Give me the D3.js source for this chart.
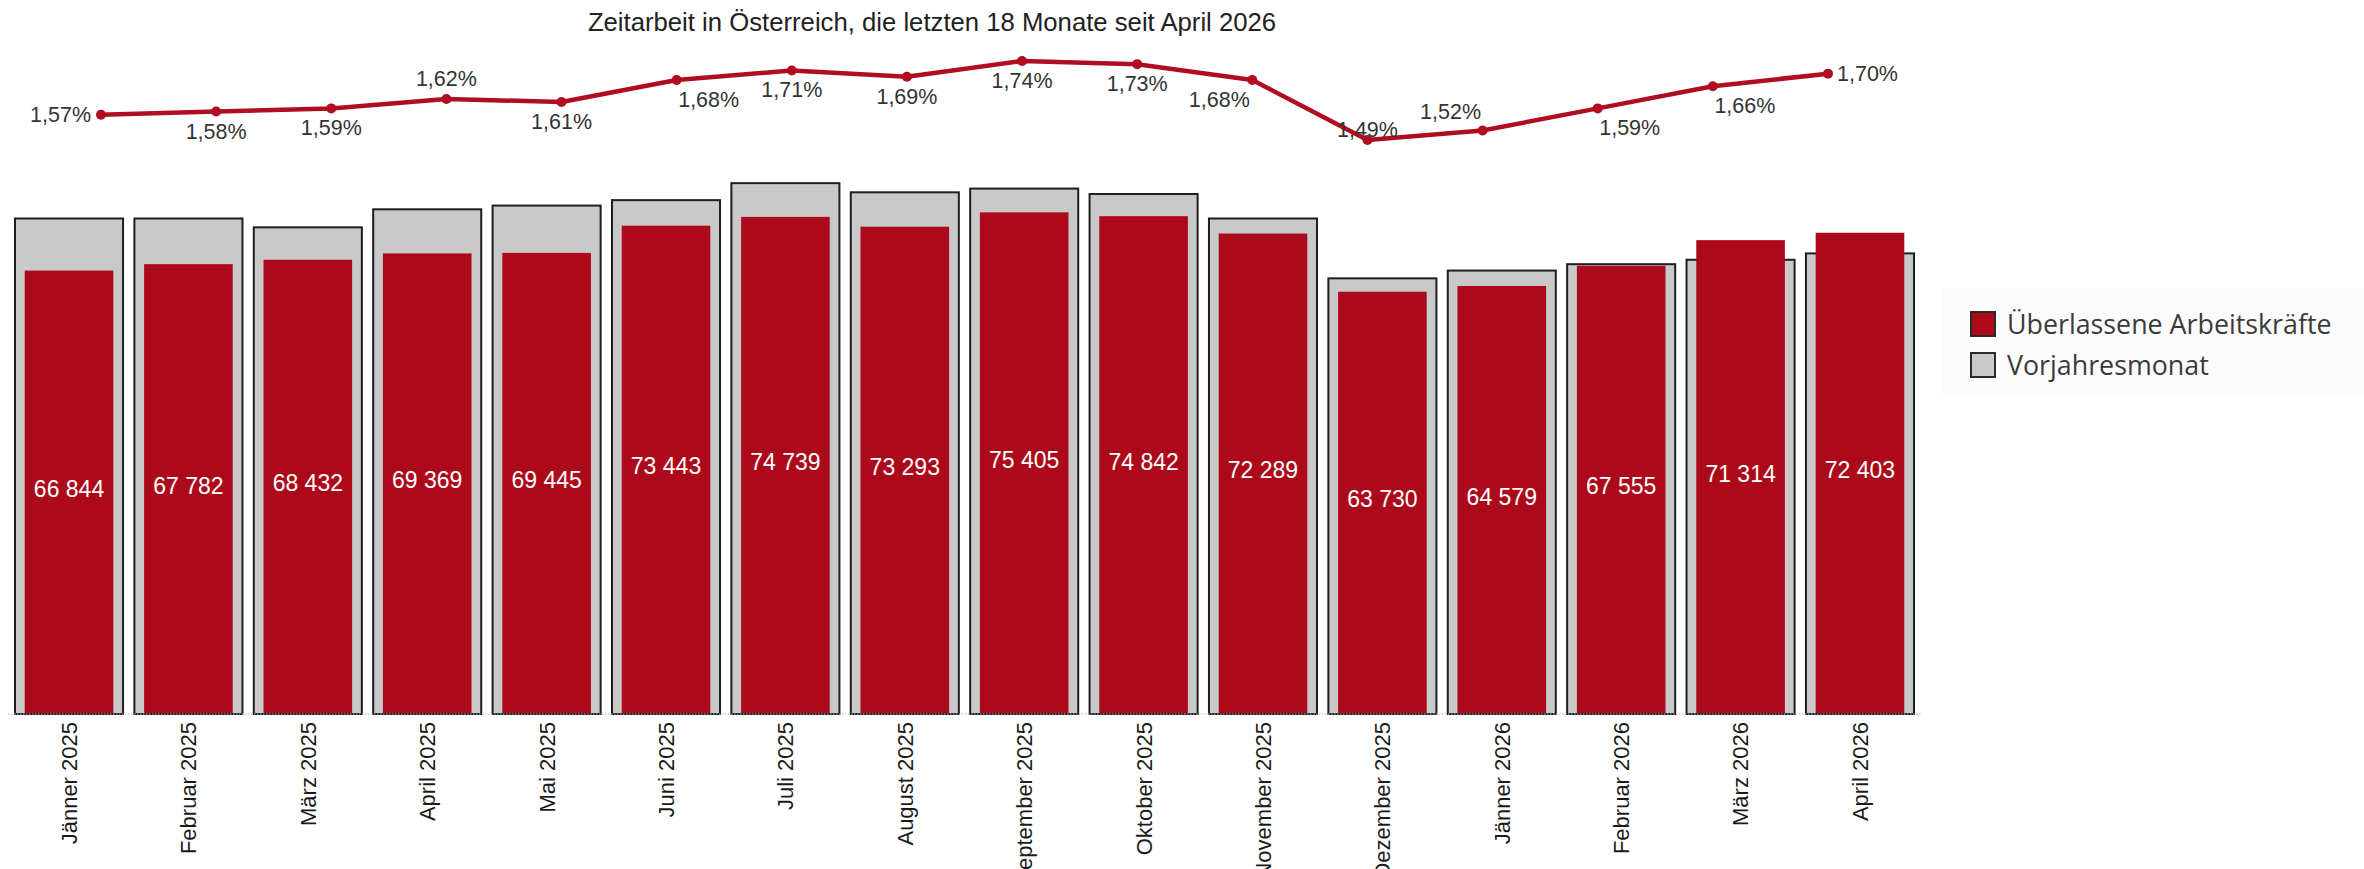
<!DOCTYPE html>
<html>
<head>
<meta charset="utf-8">
<script src="https://cdn.jsdelivr.net/npm/d3@7"></script>
<style>
  html, body { margin: 0; padding: 0; background: #ffffff; }
  svg { display: block; }
</style>
</head>
<body>
<svg id="chart" width="2364" height="869"></svg>
<script>
// ---------- data ----------
const title = "Zeitarbeit in Österreich, die letzten 18 Monate seit April 2026";
const months = ["Jänner 2025","Februar 2025","März 2025","April 2025","Mai 2025","Juni 2025","Juli 2025","August 2025","September 2025","Oktober 2025","November 2025","Dezember 2025","Jänner 2026","Februar 2026","März 2026","April 2026"];
const workers = [66844,67782,68432,69369,69445,73443,74739,73293,75405,74842,72289,63730,64579,67555,71314,72403];
const prevYear = [74500,74500,73200,75850,76400,77200,79700,78350,78900,78100,74500,65700,66844,67782,68432,69369];
const shares = [1.57,1.58,1.59,1.62,1.61,1.68,1.71,1.69,1.74,1.73,1.68,1.49,1.52,1.59,1.66,1.70];
const shareLabelPlacement = ["left","below","below","above","below","below-right","below","below","below","below","below-left","on","above-left","below-right","below-right","right"];
const legendLabels = ["Überlassene Arbeitskräfte","Vorjahresmonat"];

// ---------- style ----------
const RED = "#ac0a1b";
const LINE_RED = "#b00d20";
const GRAY = "#c9c9c9";
const OUTLINE = "#1e1e1e";
const ARIAL = "'Liberation Sans', Arial, Helvetica, sans-serif";

const svg = d3.select("#chart");
const locale = d3.formatLocale({decimal: ",", thousands: " ", grouping: [3], currency: ["", "€"]});
const fmtInt = locale.format(",d");
const fmtPct = v => locale.format(".2f")(v) + "%";

// ---------- scales ----------
const plotBottom = 713;
const x = d3.scaleBand().domain(months).range([15, 1914]).paddingInner(0.095).paddingOuter(0);
const y = d3.scaleLinear().domain([0, 80000]).range([725.1, 725.1 - 80000 * 0.0068]);
const xLine = d3.scalePoint().domain(months).range([101, 1828]);
const yLine = d3.scaleLinear().domain([1.49, 1.74]).range([140, 61]);

const bw = x.bandwidth();
const redW = bw * 0.82;

// ---------- title ----------
svg.append("text")
  .attr("x", 932).attr("y", 31)
  .attr("text-anchor", "middle")
  .attr("font-family", ARIAL).attr("font-size", 25.7)
  .attr("fill", "#222")
  .text(title);

// ---------- bars ----------
const gBars = svg.append("g");
const rows = months.map((m, i) => ({m, w: workers[i], p: prevYear[i], s: shares[i], pl: shareLabelPlacement[i]}));

gBars.selectAll("rect.prev").data(rows).join("rect")
  .attr("class", "prev")
  .attr("x", d => x(d.m))
  .attr("y", d => y(d.p))
  .attr("width", bw)
  .attr("height", d => plotBottom - y(d.p) + 1)
  .attr("fill", GRAY)
  .attr("stroke", OUTLINE)
  .attr("stroke-width", 2);

gBars.selectAll("rect.cur").data(rows).join("rect")
  .attr("class", "cur")
  .attr("x", d => x(d.m) + (bw - redW) / 2)
  .attr("y", d => y(d.w))
  .attr("width", redW)
  .attr("height", d => plotBottom - y(d.w))
  .attr("fill", RED);

// baseline (dotted)
svg.append("line")
  .attr("x1", 8).attr("x2", 1922)
  .attr("y1", plotBottom + 1).attr("y2", plotBottom + 1)
  .attr("stroke", "#b5b5b5").attr("stroke-width", 1.2)
  .attr("stroke-dasharray", "1.5,1.5");

// value labels
gBars.selectAll("text.val").data(rows).join("text")
  .attr("class", "val")
  .attr("x", d => x(d.m) + bw / 2)
  .attr("y", d => (y(d.w) + plotBottom) / 2)
  .attr("dy", "0.22em")
  .attr("text-anchor", "middle")
  .attr("font-family", ARIAL).attr("font-size", 23)
  .attr("fill", "#ffffff")
  .text(d => fmtInt(d.w));

// ---------- x axis ----------
const axis = svg.append("g")
  .attr("transform", `translate(0,${plotBottom})`)
  .call(d3.axisBottom(x).tickSize(0).tickPadding(0));
axis.select(".domain").remove();
axis.selectAll("text")
  .attr("font-family", ARIAL).attr("font-size", 22)
  .attr("fill", "#1a1a1a")
  .attr("text-anchor", "end")
  .attr("transform", "rotate(-90)")
  .attr("x", -9).attr("y", 0).attr("dy", "0.36em");

// ---------- line ----------
const line = d3.line().x(d => xLine(d.m)).y(d => yLine(d.s));
svg.append("path").datum(rows)
  .attr("d", line)
  .attr("fill", "none")
  .attr("stroke", LINE_RED)
  .attr("stroke-width", 4.5)
  .attr("stroke-linejoin", "round");
svg.selectAll("circle.pt").data(rows).join("circle")
  .attr("class", "pt")
  .attr("cx", d => xLine(d.m)).attr("cy", d => yLine(d.s))
  .attr("r", 5).attr("fill", LINE_RED);

const off = {
  "left":        {dx: -10, dy: 7,  a: "end"},
  "right":       {dx: 9,   dy: 7,  a: "start"},
  "below":       {dx: 0,   dy: 27, a: "middle"},
  "above":       {dx: 0,   dy: -13, a: "middle"},
  "below-right": {dx: 32,  dy: 27, a: "middle"},
  "below-left":  {dx: -33, dy: 27, a: "middle"},
  "above-left":  {dx: -32, dy: -12, a: "middle"},
  "on":          {dx: 0,   dy: -3, a: "middle"}
};
svg.selectAll("text.pct").data(rows).join("text")
  .attr("class", "pct")
  .attr("x", d => xLine(d.m) + off[d.pl].dx)
  .attr("y", d => yLine(d.s) + off[d.pl].dy)
  .attr("text-anchor", d => off[d.pl].a)
  .attr("font-family", ARIAL).attr("font-size", 21.5)
  .attr("fill", "#333")
  .text(d => fmtPct(d.s));

// ---------- legend ----------
const lg = svg.append("g");
lg.append("rect").attr("x", 1942).attr("y", 288).attr("width", 422).attr("height", 109).attr("fill", "#fcfcfc");
const legendColors = [RED, GRAY];
legendLabels.forEach((lab, i) => {
  const yy = 312 + i * 41;
  lg.append("rect").attr("x", 1971).attr("y", yy).attr("width", 24).attr("height", 24)
    .attr("fill", legendColors[i]).attr("stroke", "#2a2a2a").attr("stroke-width", 2);
  lg.append("text").attr("x", 2007).attr("y", yy + 12).attr("dy", "0.36em")
    .attr("font-family", "'Open Sans', 'Noto Sans', sans-serif").attr("font-size", 26.8)
    .attr("fill", "#3a3a3a").text(lab);
});
</script>
</body>
</html>
